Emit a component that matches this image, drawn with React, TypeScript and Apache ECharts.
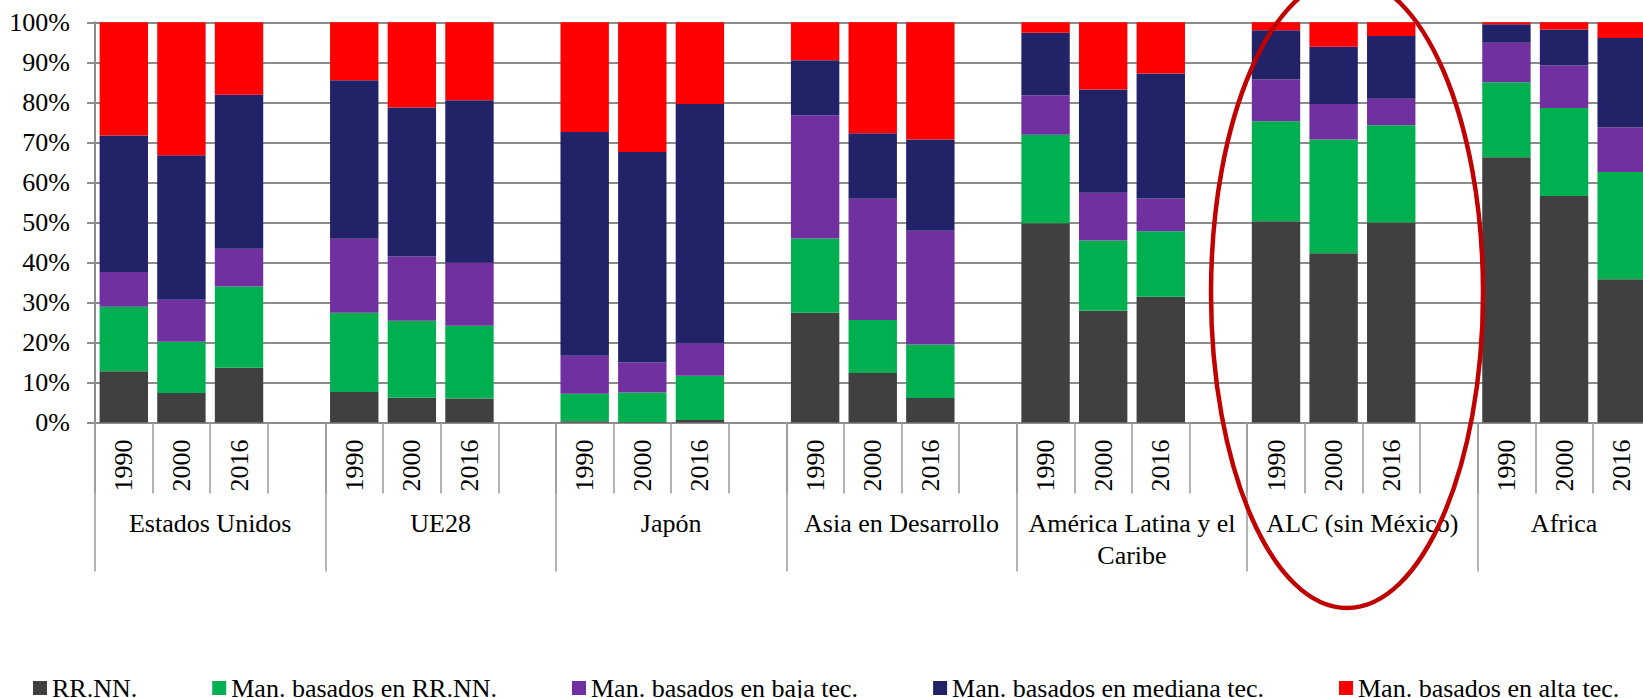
import React, { useEffect, useRef } from "react";
import * as echarts from "echarts";

const groups = [
  "Estados Unidos",
  "UE28",
  "Japón",
  "Asia en Desarrollo",
  "América Latina y el\nCaribe",
  "ALC (sin México)",
  "Africa",
];
const years = ["1990", "2000", "2016"];
const yTicks = [0, 10, 20, 30, 40, 50, 60, 70, 80, 90, 100];

const seriesNames = [
  "RR.NN.",
  "Man. basados en RR.NN.",
  "Man. basados en baja tec.",
  "Man. basados en mediana tec.",
  "Man. basados en alta tec.",
];
const seriesColors = ["#404040", "#00B050", "#7030A0", "#222268", "#FF0000"];

// values per group: 1990, 2000, 2016
const rrnn = [12.8, 7.4, 13.7, 7.6, 6.2, 6.0, 0.3, 0.1, 0.6, 27.4, 12.4, 6.1, 49.8, 27.9, 31.4, 50.3, 42.3, 50.0, 66.3, 56.6, 35.8];
const manRrnn = [16.1, 12.8, 20.3, 19.8, 19.2, 18.2, 6.9, 7.4, 11.1, 18.6, 13.2, 13.4, 22.1, 17.6, 16.4, 25.0, 28.4, 24.3, 18.7, 22.0, 26.8];
const baja = [8.7, 10.5, 9.4, 18.5, 16.1, 15.7, 9.5, 7.5, 8.1, 30.8, 30.3, 28.4, 9.9, 11.9, 8.2, 10.4, 8.9, 6.6, 9.9, 10.6, 11.1];
const mediana = [34.1, 36.1, 38.5, 39.6, 37.2, 40.6, 55.9, 52.6, 59.8, 13.7, 16.4, 22.8, 15.6, 25.8, 31.2, 12.3, 14.3, 15.7, 4.6, 9.0, 22.4];
const alta = [28.3, 33.2, 18.1, 14.5, 21.3, 19.5, 27.4, 32.4, 20.4, 9.5, 27.7, 29.3, 2.6, 16.8, 12.8, 2.0, 6.1, 3.4, 0.5, 1.8, 3.9];

const seriesValues = [rrnn, manRrnn, baja, mediana, alta];

const FONT = "'Liberation Serif', 'Times New Roman', serif";

// Build category slots: 3 years per group + blank separator (not after last group)
function buildYearAxis(): string[] {
  const out: string[] = [];
  groups.forEach((_, gi) => {
    years.forEach((y) => out.push(y));
    if (gi < groups.length - 1) out.push("");
  });
  return out;
}
function buildSeriesData(vals: number[]): (number | null)[] {
  const out: (number | null)[] = [];
  groups.forEach((_, gi) => {
    years.forEach((_, yi) => out.push(vals[gi * years.length + yi]));
    if (gi < groups.length - 1) out.push(null);
  });
  return out;
}
// Half-slot point axis for group labels
function buildGroupAxis(nSlots: number): string[] {
  const out: string[] = new Array(nSlots * 2 + 1).fill("");
  groups.forEach((g, gi) => {
    const start = gi * 4;
    const isLast = gi === groups.length - 1;
    const width = isLast ? 3 : 4;
    const centerHalf = start * 2 + width; // center in half-slots
    out[centerHalf] = g;
  });
  return out;
}

export default function App() {
  const ref = useRef<HTMLDivElement>(null);
  useEffect(() => {
    if (!ref.current) return;
    const chart = echarts.init(ref.current, undefined, { renderer: "svg" });
    const yearAxis = buildYearAxis();
    const nSlots = yearAxis.length;
    const groupAxis = buildGroupAxis(nSlots);
    const slotW = 57.61;
    const gridColor = "#8c8c8c";

    chart.setOption({
      animation: false,
      backgroundColor: "#ffffff",
      textStyle: { fontFamily: FONT },
      grid: {
        left: 95,
        top: 22.3,
        width: slotW * nSlots,
        height: 400.2,
        outerBoundsMode: "none",
        containLabel: false,
      },
      legend: {
        data: seriesNames,
        left: 28,
        top: 670,
        itemGap: 75,
        itemWidth: 14,
        itemHeight: 14,
        icon: "rect",
        selectedMode: false,
        textStyle: { fontFamily: FONT, fontSize: 26, color: "#000", lineHeight: 26 },
      },
      xAxis: [
        {
          type: "category",
          data: yearAxis,
          position: "bottom",
          axisLine: { show: true, lineStyle: { color: gridColor, width: 2 } },
          axisTick: { show: true, interval: 0, length: 71, lineStyle: { color: "#9a9a9a", width: 1.5 } },
          axisLabel: {
            interval: 0,
            rotate: 90,
            margin: 17,
            fontSize: 26,
            color: "#000",
            fontFamily: FONT,
          },
          splitLine: { show: false },
        },
        {
          type: "category",
          data: groupAxis,
          boundaryGap: false,
          position: "bottom",
          axisLine: { show: false },
          axisTick: {
            show: true,
            interval: (i: number) => i % 8 === 0,
            length: 149,
            lineStyle: { color: "#9a9a9a", width: 1.5 },
          },
          axisLabel: {
            interval: 0,
            margin: 85,
            fontSize: 26,
            lineHeight: 32,
            color: "#000",
            fontFamily: FONT,
          },
          splitLine: { show: false },
        },
      ],
      yAxis: {
        type: "value",
        min: yTicks[0],
        max: yTicks[yTicks.length - 1],
        interval: 10,
        axisLine: { show: true, lineStyle: { color: gridColor, width: 2 } },
        axisTick: { show: true, length: 8, lineStyle: { color: gridColor, width: 2 } },
        axisLabel: {
          formatter: "{value}%",
          margin: 25,
          fontSize: 26,
          color: "#000",
          fontFamily: FONT,
        },
        splitLine: { show: true, lineStyle: { color: gridColor, width: 2 } },
      },
      series: seriesNames.map((name, i) => ({
        name,
        type: "bar",
        stack: "total",
        xAxisIndex: 0,
        yAxisIndex: 0,
        barWidth: "84%",
        data: buildSeriesData(seriesValues[i]),
        itemStyle: { color: seriesColors[i] },
        emphasis: { disabled: true },
      })),
      graphic: [
        {
          type: "ellipse",
          shape: { cx: 1347, cy: 293, rx: 136, ry: 315 },
          style: { fill: "none", stroke: "#C00000", lineWidth: 4.5 },
          z: 100,
          silent: true,
        },
      ],
    });
    return () => chart.dispose();
  }, []);

  return (
    <div
      style={{
        position: "fixed",
        left: 0,
        top: 0,
        width: 1643,
        height: 698,
        overflow: "hidden",
        background: "#fff",
      }}
    >
      <div ref={ref} style={{ width: 1700, height: 698 }} />
    </div>
  );
}
